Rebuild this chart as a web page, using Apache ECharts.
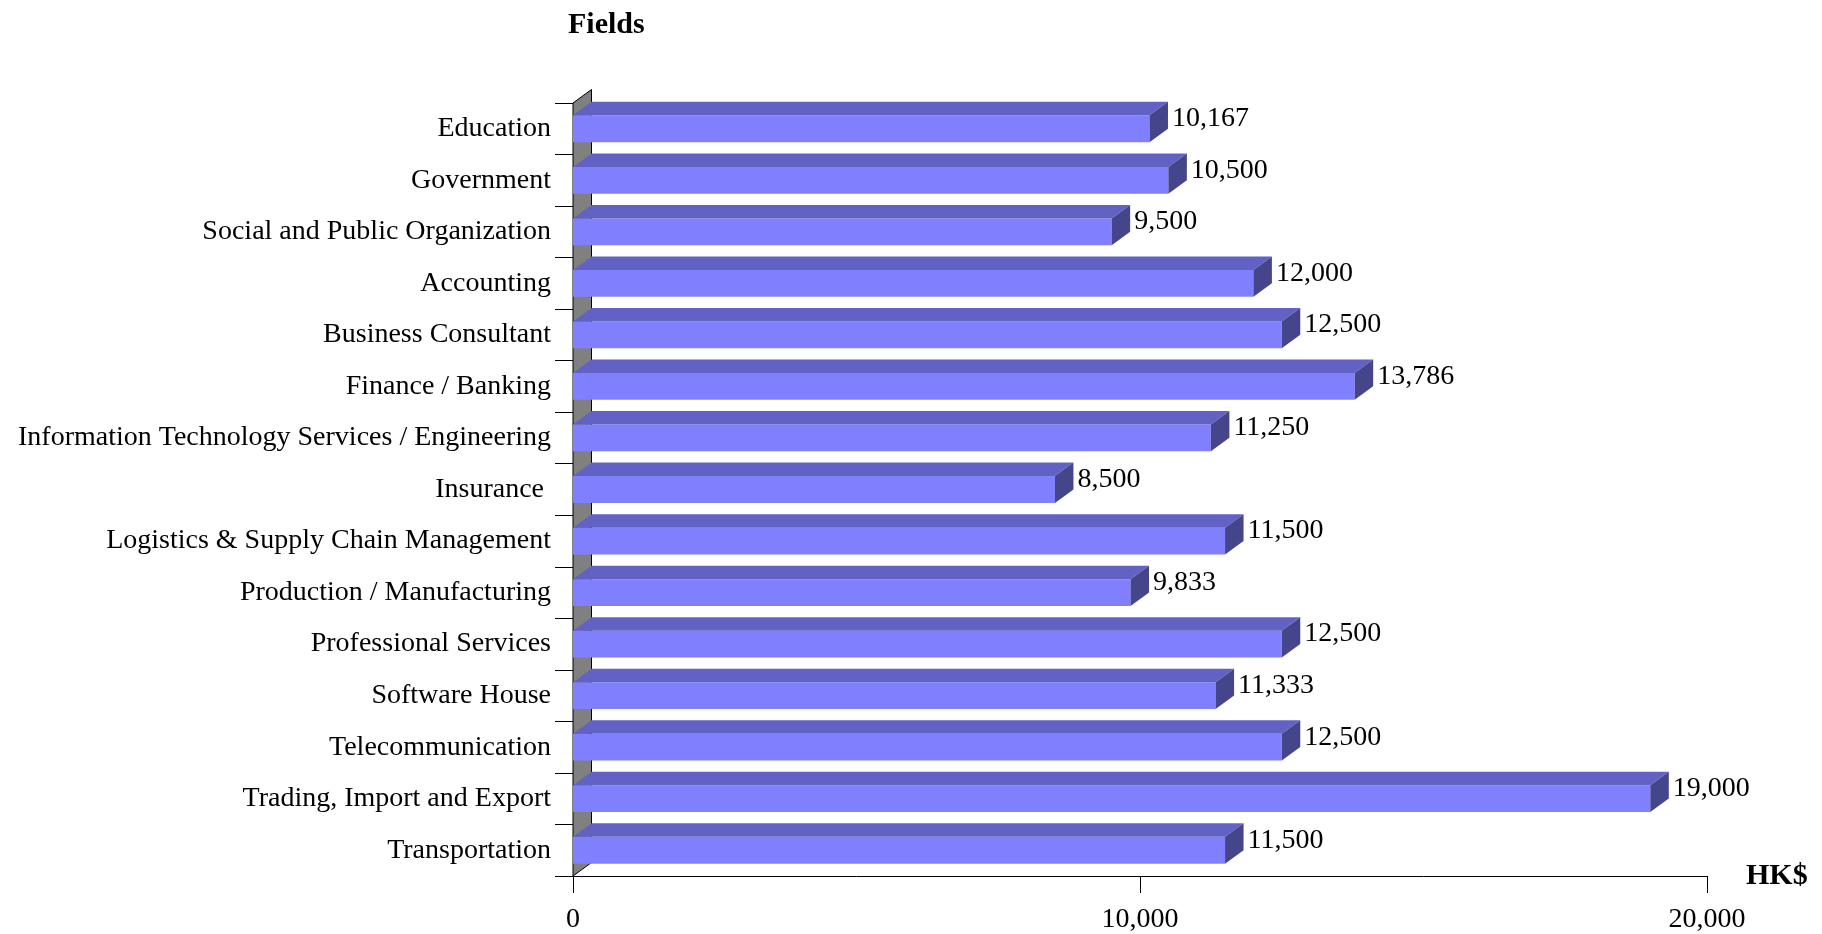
<!DOCTYPE html>
<html>
<head>
<meta charset="utf-8">
<script src="https://cdn.jsdelivr.net/npm/echarts@6/dist/echarts.min.js"></script>
<style>
  html, body { margin: 0; padding: 0; background: #fff; }
  #chart { width: 1822px; height: 934px; }
</style>
</head>
<body>
<div id="chart"></div>
<script>
const categories = [
  "Education",
  "Government",
  "Social and Public Organization",
  "Accounting",
  "Business Consultant",
  "Finance / Banking",
  "Information Technology Services / Engineering",
  "Insurance ",
  "Logistics & Supply Chain Management",
  "Production / Manufacturing",
  "Professional Services",
  "Software House",
  "Telecommunication",
  "Trading, Import and Export",
  "Transportation"
];
const salaries = [10167, 10500, 9500, 12000, 12500, 13786, 11250, 8500, 11500, 9833, 12500, 11333, 12500, 19000, 11500];
const xTicks = [0, 10000, 20000];

const FONT = "'Liberation Serif', 'Times New Roman', serif";
// depth offset of the fake 3d look
const DX = 18.5;
const DY = 13.5;

const fmt = v => String(v).replace(/\B(?=(\d{3})+(?!\d))/g, ",");

const chart = echarts.init(document.getElementById("chart"));

const renderWall = (params, api) => {
  const band = api.size([0, 1])[1];
  const first = api.coord([0, 0]);
  const last = api.coord([0, categories.length - 1]);
  const x0 = first[0];
  const top = first[1] - band / 2;
  const bottom = last[1] + band / 2;
  return {
    type: "polygon",
    shape: { points: [[x0, bottom], [x0, top], [x0 + DX, top - DY], [x0 + DX, bottom - DY]] },
    style: { fill: "#808080", stroke: "#000", lineWidth: 1 }
  };
};

const renderBar = (params, api) => {
  const val = api.value(0);
  const idx = api.value(1);
  const start = api.coord([0, idx]);
  const end = api.coord([val, idx]);
  const band = api.size([0, 1])[1];
  const h = band * 0.52;
  const x0 = start[0], x1 = end[0];
  const y0 = start[1] - h / 2, y1 = start[1] + h / 2;
  return {
    type: "group",
    children: [
      {
        type: "rect",
        shape: { x: x0, y: y0, width: x1 - x0, height: h },
        style: { fill: "#8080FF" }
      },
      {
        type: "polygon",
        shape: { points: [[x0, y0], [x0 + DX, y0 - DY], [x1 + DX, y0 - DY], [x1, y0]] },
        style: { fill: "#6262C4" }
      },
      {
        type: "polygon",
        shape: { points: [[x1, y0], [x1 + DX, y0 - DY], [x1 + DX, y1 - DY], [x1, y1]] },
        style: { fill: "#45458C" }
      },
      {
        type: "text",
        style: {
          text: fmt(val),
          x: x1 + DX + 4,
          y: start[1] - 10,
          verticalAlign: "middle",
          align: "left",
          fill: "#000",
          font: "28px " + FONT
        }
      }
    ]
  };
};

const options = {
  animation: false,
  backgroundColor: "#fff",
  title: {
    text: "Fields",
    left: 568,
    top: 10,
    padding: 0,
    textStyle: { fontFamily: FONT, fontWeight: "bold", fontSize: 30, color: "#000" }
  },
  grid: { left: 573, right: 115, top: 103, bottom: 58 },
  xAxis: {
    type: "value",
    min: xTicks[0],
    max: xTicks[xTicks.length - 1],
    interval: xTicks[1] - xTicks[0],
    name: "HK$",
    nameLocation: "end",
    nameGap: 39,
    nameTextStyle: { fontFamily: FONT, fontWeight: "bold", fontSize: 30, color: "#000" },
    axisLine: { show: true, lineStyle: { color: "#000", width: 1 } },
    axisTick: { show: true, length: 17, lineStyle: { color: "#000" } },
    splitLine: { show: false },
    axisLabel: {
      margin: 30,
      color: "#000",
      fontFamily: FONT,
      fontSize: 28,
      formatter: v => fmt(v)
    }
  },
  yAxis: {
    type: "category",
    data: categories,
    inverse: true,
    axisLine: { show: true, onZero: false, lineStyle: { color: "#000", width: 1 } },
    axisTick: { show: true, length: 18, lineStyle: { color: "#000" } },
    axisLabel: {
      margin: 22,
      color: "#000",
      fontFamily: FONT,
      fontSize: 28
    }
  },
  series: [
    {
      type: "custom",
      renderItem: renderWall,
      data: [[0, 0]],
      encode: { x: 0, y: 1 },
      clip: false,
      silent: true,
      z: 1
    },
    {
      type: "custom",
      renderItem: renderBar,
      data: salaries.map((v, i) => [v, i]),
      encode: { x: 0, y: 1 },
      clip: false,
      z: 2
    }
  ]
};

chart.setOption(options);
</script>
</body>
</html>
